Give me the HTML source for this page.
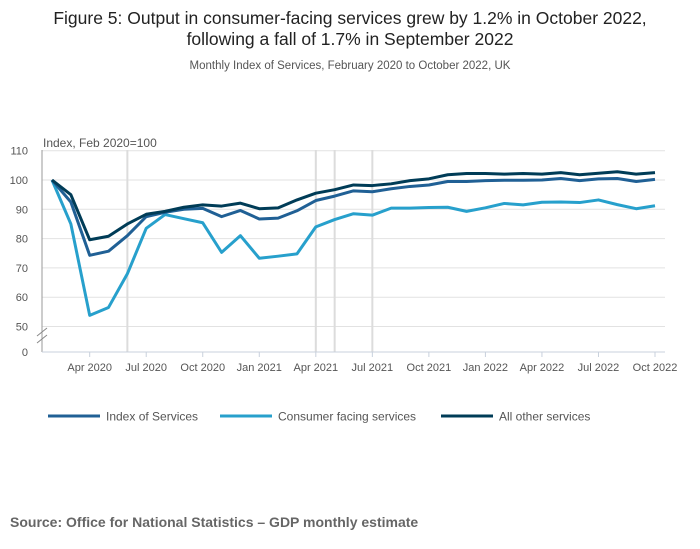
<!DOCTYPE html>
<html><head><meta charset="utf-8">
<style>
body{margin:0;background:#fff;width:700px;height:549px;overflow:hidden;font-family:"Liberation Sans","DejaVu Sans",sans-serif;}
svg{display:block}
</style></head>
<body>
<svg id="chart" width="700" height="549" xmlns="http://www.w3.org/2000/svg">
<text x="350" y="24" text-anchor="middle" font-size="17.5" fill="#222">Figure 5: Output in consumer-facing services grew by 1.2% in October 2022,</text>
<text x="350" y="45" text-anchor="middle" font-size="17.5" fill="#222">following a fall of 1.7% in September 2022</text>
<text x="350" y="69" text-anchor="middle" font-size="11.5" fill="#555">Monthly Index of Services, February 2020 to October 2022, UK</text>
<text x="43" y="147" font-size="12" fill="#555">Index, Feb 2020=100</text>
<g id="grid"></g>
<g id="series"></g>
<g id="legend">
  <line x1="48" y1="416" x2="100" y2="416" stroke="#206095" stroke-width="3"/>
  <text x="106" y="420.5" font-size="12" fill="#555">Index of Services</text>
  <line x1="220" y1="416" x2="272" y2="416" stroke="#27a0cc" stroke-width="3"/>
  <text x="278" y="420.5" font-size="12" fill="#555">Consumer facing services</text>
  <line x1="441" y1="416" x2="493" y2="416" stroke="#003c57" stroke-width="3"/>
  <text x="499" y="420.5" font-size="12" fill="#555">All other services</text>
</g>
<text x="10" y="527" font-size="14" font-weight="bold" fill="#666">Source: Office for National Statistics – GDP monthly estimate</text>
</svg>
<script>
const months = 33; // Feb 2020 .. Oct 2022
const indexOfServices = [100,92.5,74.3,75.7,81,87.5,89,90,90.3,87.5,89.6,86.7,87,89.5,93,94.5,96.3,96,97,97.8,98.3,99.5,99.5,99.8,99.9,99.9,100,100.5,99.8,100.4,100.5,99.5,100.2];
const consumerFacing = [100,85,53.8,56.5,68,83.5,88.2,86.8,85.4,75.3,81,73.3,74,74.8,84,86.5,88.5,88,90.4,90.4,90.6,90.7,89.3,90.5,92,91.5,92.4,92.5,92.3,93.2,91.6,90.2,91.2];
const allOther = [100,95,79.6,80.8,85,88.3,89.3,90.7,91.5,91.1,92.1,90.2,90.5,93.2,95.5,96.7,98.3,98.1,98.7,99.8,100.4,101.8,102.2,102.2,102,102.2,102,102.5,101.8,102.3,102.8,102,102.5];
const yTicks = [50,60,70,80,90,100,110];
const xTickLabels = ["Apr 2020","Jul 2020","Oct 2020","Jan 2021","Apr 2021","Jul 2021","Oct 2021","Jan 2022","Apr 2022","Jul 2022","Oct 2022"];
const xTickIndex = [2,5,8,11,14,17,20,23,26,29,32];
const markerIndex = [4,14,15,17];

const NS="http://www.w3.org/2000/svg";
const X0=52, X1=655, PL=42, PR=665;
function x(i){return X0+(X1-X0)*i/(months-1);}
function y(v){return 180-(v-100)*2.93;}
function el(t,a,p){const e=document.createElementNS(NS,t);for(const k in a)e.setAttribute(k,a[k]);p.appendChild(e);return e;}
const grid=document.getElementById('grid');
yTicks.forEach(v=>{
  const l=el('line',{x1:PL,x2:PR,y1:y(v),y2:y(v),stroke:'#e2e2e2','stroke-width':1},grid);
  
  
  const t=el('text',{x:28,y:y(v)+4,'font-size':11,fill:'#555','text-anchor':'end'},grid);
  t.textContent=v;
  
  
});
const z=el('text',{x:28,y:356,'font-size':11,fill:'#555','text-anchor':'end'},grid);
z.textContent='0';


markerIndex.forEach(i=>{
  const l=el('line',{x1:x(i),x2:x(i),y1:150,y2:352,stroke:'#dcdcdc','stroke-width':2},grid);
  
  
});
const ax=el('line',{x1:PL,x2:PL,y1:150,y2:352,stroke:'#999','stroke-width':1},grid);


const bk=el('path',{d:'M37 336 L47 328 M37 343 L47 335',stroke:'#888','stroke-width':1,fill:'none'},grid);


const xa=el('line',{x1:PL,x2:PR,y1:352,y2:352,stroke:'#c8d0dc','stroke-width':1},grid);


xTickIndex.forEach((i,k)=>{
  const tk=el('line',{x1:x(i),x2:x(i),y1:352,y2:357,stroke:'#c8d0dc'},grid);
  
  
  const t=el('text',{x:x(i),y:371,'font-size':11,fill:'#555','text-anchor':'middle'},grid);
  t.textContent=xTickLabels[k];
  
  
});
const sg=document.getElementById('series');
function line(data,color,name){
  const p=el('polyline',{points:data.map((v,i)=>x(i)+','+y(v)).join(' '),fill:'none',stroke:color,'stroke-width':3,'stroke-linejoin':'round'},sg);
  
  
}
line(consumerFacing,'#27a0cc','line-consumer-facing');
line(indexOfServices,'#206095','line-index-of-services');
line(allOther,'#003c57','line-all-other');
</script>
</body></html>
